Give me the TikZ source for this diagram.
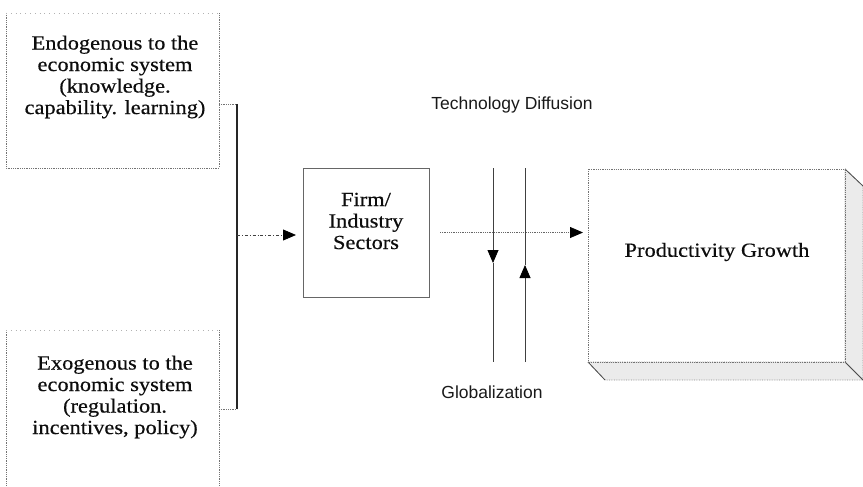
\documentclass[tikz,border=0pt]{standalone}
\usepackage{fontspec}
\setmainfont{Liberation Serif}[FakeStretch=1.12, FakeBold=0.5]
\newfontfamily\labelfont{Liberation Sans}
\usetikzlibrary{arrows.meta}

\begin{document}
\begin{tikzpicture}[x=1pt,y=-1pt,
  frame/.style={shape=rectangle, inner sep=0pt, outer sep=0pt},
  boxedge/.style={draw=black!55, densely dotted, line width=0.8pt},
  faintedge/.style={draw=black!30, loosely dotted, line width=0.8pt},
  boxtext/.style={align=center, inner sep=0pt, text=black!95,
    font=\fontsize{20}{21.5}\selectfont},
  labeltext/.style={inner sep=0pt, text=black!90,
    font=\labelfont\fontsize{17.5}{20}\selectfont},
  arrowhead/.style={-{Triangle[length=13pt,width=11pt,color=black,fill=black]}},
  vline/.style={draw=black!75, line width=0.8pt},
  side/.style={fill=black!8, draw=black!45, densely dotted, line width=0.7pt}
]
\useasboundingbox (0,0) rectangle (863,487);

% source boxes on the left
\node[frame, minimum width=213pt, minimum height=155pt] (endo) at (112.5,90.5) {};
\draw[boxedge] (endo.north west) -- (endo.south west) -- (endo.south east) -- (endo.north east);
\draw[faintedge] (endo.north west) -- (endo.north east);
\node[boxtext] (endotxt) at (115,77) {Endogenous to the\\economic system\\(knowledge.\\capability. learning)};

\node[frame, minimum width=213pt, minimum height=170pt] (exo) at (112.5,415) {};
\draw[boxedge] (exo.south west) -- (exo.north west);
\draw[boxedge] (exo.south east) -- (exo.north east);
\draw[faintedge] (exo.north west) -- (exo.north east);
\node[boxtext] (exotxt) at (115,397) {Exogenous to the\\economic system\\(regulation.\\incentives, policy)};

% bracket joining both sources
\coordinate (bt) at (237,104);
\coordinate (bb) at (237,409);
\coordinate (bm) at (237,235);
\draw[boxedge] (endo.east |- bt) -- (bt);
\draw[boxedge] (exo.east |- bb) -- (bb);
\draw[draw=black!85, line width=1.3pt] (bt) -- (bb);

% firm / industry box
\node[frame, minimum width=126pt, minimum height=129pt, draw=black!60, line width=0.8pt] (firm) at (366,232.5) {};
\node[boxtext] (firmtxt) at (366,221) {Firm/\\Industry\\Sectors};

% productivity box with depth
\node[frame, minimum width=257pt, minimum height=193pt] (prod) at (716.5,265.5) {};
\draw[side] (prod.north east) -- ++(18,17) -- ++(0,194) -- (prod.south east) -- cycle;
\draw[side] (prod.south west) -- ++(17,18) -- ++(258,0) -- (prod.south east) -- cycle;
\draw[draw=black!70, line width=0.8pt] (prod.north east) -- ++(18,17);
\draw[draw=black!70, line width=0.8pt] (prod.south east) -- ++(18,18);
\draw[draw=black!70, line width=0.8pt] (prod.south west) -- ++(17,18);
\draw[boxedge] (prod.north west) rectangle (prod.south east);
\node[boxtext] (prodtxt) at (717,252) {Productivity Growth};

% flows
\draw[arrowhead, draw=black!75, line width=0.8pt, dash dot, shorten >=7pt] (bm) -- (bm -| firm.west);
\draw[arrowhead, draw=black!60, line width=0.8pt, densely dotted, shorten <=11pt, shorten >=5pt]
  (firm.east) -- (firm.east -| prod.west);

% globalization / technology diffusion channels
\coordinate (gdtop) at (493,168);
\coordinate (gdmid) at (493,263);
\coordinate (gdbot) at (493,362);
\coordinate (gutop) at (525,168);
\coordinate (gumid) at (525,265);
\coordinate (gubot) at (525,362);
\draw[vline] (gdmid) -- (gdbot);
\draw[vline, arrowhead] (gdtop) -- (gdmid);
\draw[vline] (gutop) -- (gumid);
\draw[vline, arrowhead] (gubot) -- (gumid);

\node[labeltext] (techlbl) at (512,105) {Technology Diffusion};
\node[labeltext] (globlbl) at (492,392) {Globalization};
\end{tikzpicture}
\end{document}
